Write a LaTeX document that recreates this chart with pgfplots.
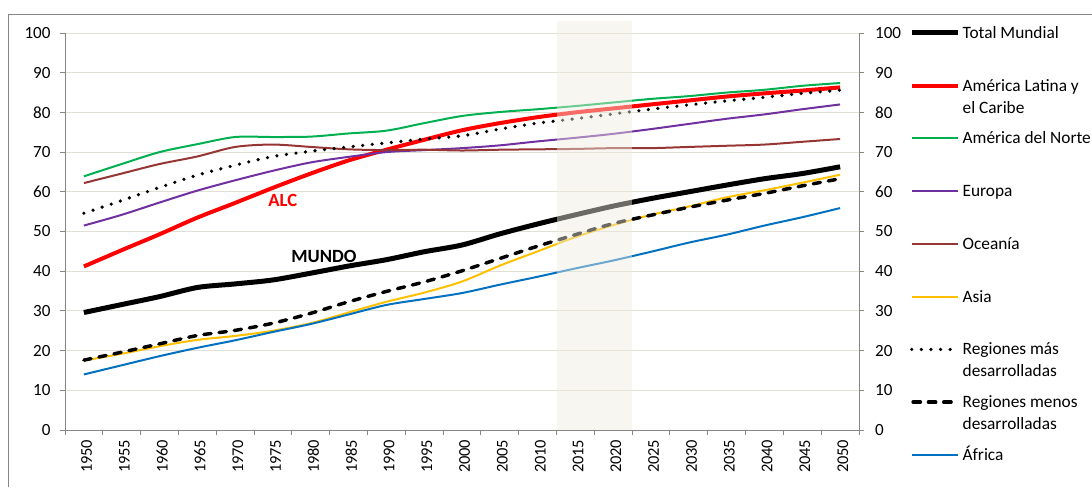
\documentclass[border=0pt]{standalone}
\usepackage{pgfplots}
\pgfplotsset{compat=1.18}
\usepackage{fontspec}
\setmainfont{Carlito}
\definecolor{axgray}{RGB}{134,134,134}
\definecolor{gridc}{RGB}{226,224,212}
\definecolor{shadec}{RGB}{238,236,224}
\definecolor{cRed}{RGB}{255,0,0}
\definecolor{cNA}{RGB}{0,176,80}
\definecolor{cEU}{RGB}{112,48,160}
\definecolor{cOC}{RGB}{150,54,52}
\definecolor{cAS}{RGB}{255,192,0}
\definecolor{cAF}{RGB}{0,112,192}
\pgfplotsset{
  dotlegend/.style={legend image code/.code={\draw[##1] (0pt,0pt) -- (33pt,0pt);}},
  dashlegend/.style={legend image code/.code={\draw[##1] (1pt,0pt) -- (31pt,0pt);}},
}
\begin{document}
\begin{tikzpicture}[x=1pt,y=1pt]
\path[use as bounding box] (-48.75,-42.75) rectangle (770.25,322.5);
\draw[axgray, line width=0.75pt] (-42,-42.75) -- (-42,312) -- (770.25,312);
\begin{axis}[
  at={(0pt,0pt)}, anchor=south west,
  width=595.5pt, height=297.75pt, scale only axis,
  xmin=1947.5, xmax=2052.5, ymin=0, ymax=100,
  clip=false,
  axis x line*=bottom, axis y line*=left,
  axis line style={axgray, line width=0.75pt},
  xtick={1950,1955,...,2050},
  minor xtick={1947.5,1952.5,...,2052.5},
  major x tick style={draw=none},
  minor x tick style={axgray, line width=0.75pt},
  tick align=outside,
  major tick length=3.75pt, minor tick length=3.75pt,
  ytick={0,10,...,100},
  y tick style={axgray, line width=0.75pt},
  ymajorgrids, grid style={gridc, line width=0.75pt},
  /pgf/number format/assume math mode=true,
  /pgf/number format/1000 sep={},
  xticklabel style={rotate=90, anchor=east, font=\fontsize{12.3}{14}\selectfont, yshift=-2pt},
  yticklabel style={font=\fontsize{12.8}{15}\selectfont, xshift=-3.6pt},
  legend style={at={(1.0579,1.021)}, anchor=north west, draw=none, fill=none,
    font=\fontsize{13}{16.5}\selectfont, row sep=31.56pt,
    nodes={inner ysep=0pt, inner xsep=1.3pt, text height=8pt, text depth=0pt}},
  legend cell align=left,
  legend image code/.code={\draw[#1] (0pt,0pt) -- (35pt,0pt);},
]
\addplot[black, line width=3.75pt, smooth] coordinates {
(1950,29.6)(1955,31.6)(1960,33.6)(1965,35.9)(1970,36.8)(1975,37.8)(1980,39.5)(1985,41.3)(1990,42.9)(1995,44.9)(2000,46.6)(2005,49.4)(2010,51.9)(2015,54.2)(2020,56.4)(2025,58.3)(2030,60.0)(2035,61.7)(2040,63.3)(2045,64.6)(2050,66.3)};
\addlegendentry{Total Mundial}
\addplot[cRed, line width=3pt, smooth] coordinates {
(1950,41.2)(1955,45.3)(1960,49.3)(1965,53.5)(1970,57.2)(1975,61.0)(1980,64.6)(1985,67.9)(1990,70.6)(1995,73.1)(2000,75.5)(2005,77.3)(2010,78.8)(2015,80.0)(2020,81.0)(2025,82.0)(2030,83.0)(2035,84.0)(2040,84.8)(2045,85.5)(2050,86.3)};
\addlegendentry{\parbox[t]{130pt}{América Latina y\\el Caribe}}
\addplot[cNA, line width=1.5pt, smooth] coordinates {
(1950,63.9)(1955,67.0)(1960,70.0)(1965,72.0)(1970,73.8)(1975,73.8)(1980,73.9)(1985,74.7)(1990,75.4)(1995,77.3)(2000,79.1)(2005,80.1)(2010,80.8)(2015,81.6)(2020,82.5)(2025,83.4)(2030,84.1)(2035,85.0)(2040,85.7)(2045,86.7)(2050,87.4)};
\addlegendentry{América del Norte}
\addplot[cEU, line width=1.5pt, smooth] coordinates {
(1950,51.5)(1955,54.2)(1960,57.3)(1965,60.3)(1970,62.9)(1975,65.3)(1980,67.4)(1985,68.8)(1990,70.0)(1995,70.5)(2000,71.0)(2005,71.7)(2010,72.7)(2015,73.6)(2020,74.6)(2025,75.8)(2030,77.1)(2035,78.4)(2040,79.5)(2045,80.8)(2050,82.0)};
\addlegendentry{Europa}
\addplot[cOC, line width=1.5pt, smooth] coordinates {
(1950,62.2)(1955,64.6)(1960,67.0)(1965,68.9)(1970,71.3)(1975,71.9)(1980,71.3)(1985,70.7)(1990,70.5)(1995,70.6)(2000,70.4)(2005,70.6)(2010,70.7)(2015,70.8)(2020,71.0)(2025,71.0)(2030,71.3)(2035,71.6)(2040,71.9)(2045,72.6)(2050,73.3)};
\addlegendentry{Oceanía}
\addplot[cAS, line width=1.5pt, smooth] coordinates {
(1950,17.5)(1955,19.2)(1960,21.1)(1965,22.7)(1970,23.7)(1975,25.0)(1980,26.9)(1985,29.6)(1990,32.3)(1995,34.6)(2000,37.4)(2005,41.4)(2010,45.0)(2015,48.6)(2020,51.6)(2025,54.2)(2030,56.3)(2035,58.6)(2040,60.4)(2045,62.3)(2050,64.3)};
\addlegendentry{Asia}
\addplot[black, line width=2.7pt, line cap=round, dash pattern=on 0pt off 7.2pt, smooth, dotlegend] coordinates {
(1950,54.6)(1955,57.8)(1960,61.1)(1965,64.2)(1970,66.7)(1975,68.9)(1980,70.2)(1985,71.3)(1990,72.3)(1995,73.3)(2000,74.1)(2005,75.8)(2010,77.3)(2015,78.4)(2020,79.6)(2025,80.8)(2030,81.9)(2035,82.9)(2040,83.8)(2045,84.8)(2050,85.6)};
\addlegendentry{\parbox[t]{130pt}{Regiones más\\desarrolladas}}
\addplot[black, line width=2.6pt, line cap=round, dash pattern=on 5.5pt off 6pt, smooth, dashlegend] coordinates {
(1950,17.6)(1955,19.6)(1960,21.7)(1965,23.8)(1970,25.1)(1975,26.9)(1980,29.4)(1985,32.3)(1990,34.9)(1995,37.3)(2000,40.1)(2005,43.2)(2010,46.3)(2015,49.2)(2020,52.0)(2025,54.1)(2030,56.1)(2035,57.9)(2040,59.6)(2045,61.5)(2050,63.3)};
\addlegendentry{\parbox[t]{130pt}{Regiones menos\\desarrolladas}}
\addplot[cAF, line width=1.5pt, smooth] coordinates {
(1950,14.0)(1955,16.3)(1960,18.6)(1965,20.7)(1970,22.6)(1975,24.7)(1980,26.7)(1985,29.1)(1990,31.5)(1995,33.0)(2000,34.5)(2005,36.6)(2010,38.6)(2015,40.7)(2020,42.7)(2025,44.9)(2030,47.2)(2035,49.2)(2040,51.5)(2045,53.6)(2050,55.9)};
\addlegendentry{África}
\fill[shadec, fill opacity=0.45] (axis cs:2012.5,0) rectangle (axis cs:2022.5,103);
\node[text=cRed, font=\bfseries\fontsize{14}{16}\selectfont] at (axis cs:1976.3,57.8) {ALC};
\node[text=black, font=\bfseries\fontsize{14}{16}\selectfont] at (axis cs:1981.75,43.8) {MUNDO};
\end{axis}
\begin{axis}[
  at={(0pt,0pt)}, anchor=south west,
  width=595.5pt, height=297.75pt, scale only axis,
  xmin=1947.5, xmax=2052.5, ymin=0, ymax=100,
  axis x line=none, axis y line*=right,
  axis line style={axgray, line width=0.75pt},
  tick align=outside, major tick length=3.75pt,
  ytick={0,10,...,100},
  y tick style={axgray, line width=0.75pt},
  /pgf/number format/assume math mode=true,
  yticklabel style={font=\fontsize{12.8}{15}\selectfont, xshift=4.8pt},
]
\end{axis}
\end{tikzpicture}
\end{document}
